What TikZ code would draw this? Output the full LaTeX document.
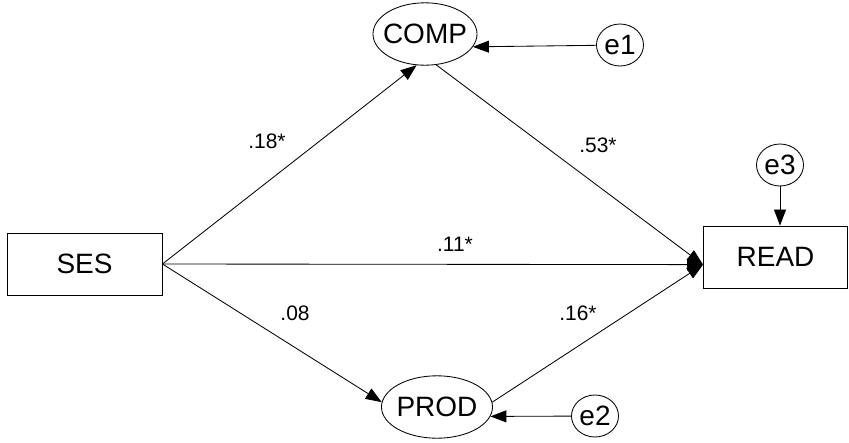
\documentclass[tikz,border=0pt]{standalone}
\usepackage{fontspec}
\setmainfont{Liberation Sans}
\usetikzlibrary{shapes.geometric,arrows.meta}

\begin{document}
\begin{tikzpicture}[x=0.025cm, y=-0.025cm,
  obs/.style={draw, rectangle, inner sep=0pt, line width=0.6pt, minimum width=#1, minimum height=1.55cm, font=\fontsize{19.9}{24}\selectfont},
  lat/.style={draw, ellipse, inner sep=0pt, line width=0.6pt, minimum width=#1, minimum height=1.56cm, font=\fontsize{19.9}{24}\selectfont},
  err/.style={draw, ellipse, inner sep=0pt, line width=0.6pt, minimum width=1.175cm, minimum height=1.05cm, font=\fontsize{19.9}{24}\selectfont},
  coef/.style={inner sep=0pt, font=\fontsize{14.9}{18}\selectfont},
  effect/.style={draw, line width=0.6pt, -{Triangle[length=0.4cm,width=0.3cm]}}]
  \useasboundingbox (0,0) rectangle (849,442);
  \node[obs=3.875cm] (ses) at (84.5,264) {SES};
  \node[obs=3.6cm] (read) at (775.5,257) {READ};
  \node[lat=2.6cm] (comp) at (425,34) {\makebox[0pt]{COMP}};
  \node[lat=2.775cm] (prod) at (437,407) {\makebox[0pt]{PROD}};
  \node[err] (eone) at (620,45) {e1};
  \node[err] (etwo) at (595,416) {e2};
  \node[err] (ethree) at (780,165) {e3};
  \node[coef] (c18) at (267,141) {.18*};
  \node[coef] (c53) at (598,145) {.53*};
  \node[coef] (c11) at (455,244) {.11*};
  \node[coef] (c08) at (295,313) {.08};
  \node[coef] (c16) at (578,313) {.16*};
  \draw[effect] (ses.east) -- (comp.255);
  \draw[effect] (comp.290) -- (read.186);
  \draw[effect] (ses.east) -- (read.186);
  \draw[effect] (ses.east) -- (prod.175);
  \draw[effect] (prod.5) -- (read.186);
  \draw[effect] (eone) -- (comp.345);
  \draw[effect] (etwo) -- (prod.350);
  \draw[effect] (ethree) -- (ethree |- read.north);
\end{tikzpicture}
\end{document}
